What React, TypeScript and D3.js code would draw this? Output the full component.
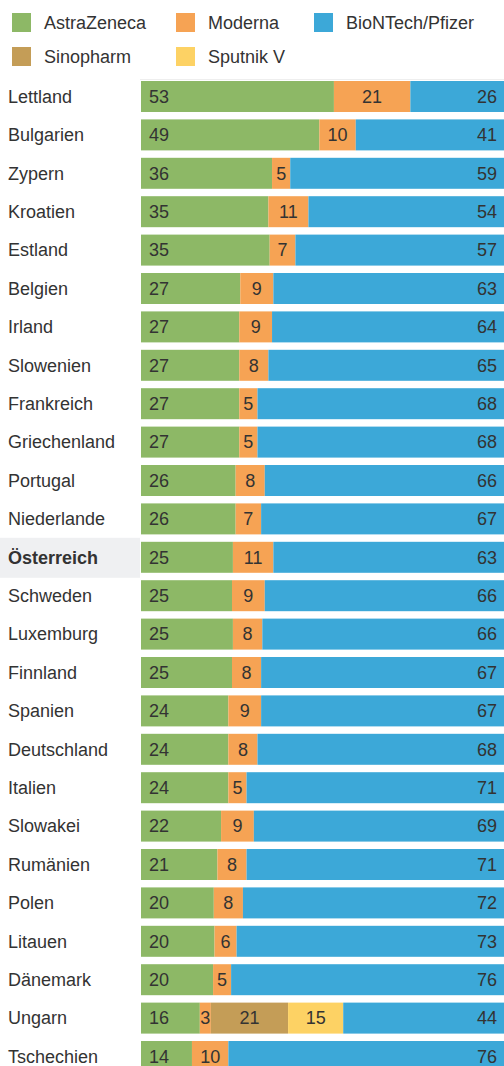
import React from 'react';
import * as d3 from 'd3';

const countries = [
  'Lettland', 'Bulgarien', 'Zypern', 'Kroatien', 'Estland', 'Belgien', 'Irland',
  'Slowenien', 'Frankreich', 'Griechenland', 'Portugal', 'Niederlande', 'Österreich',
  'Schweden', 'Luxemburg', 'Finnland', 'Spanien', 'Deutschland', 'Italien', 'Slowakei',
  'Rumänien', 'Polen', 'Litauen', 'Dänemark', 'Ungarn', 'Tschechien',
];

const astraZeneca = [53, 49, 36, 35, 35, 27, 27, 27, 27, 27, 26, 26, 25, 25, 25, 25, 24, 24, 24, 22, 21, 20, 20, 20, 16, 14];
const moderna = [21, 10, 5, 11, 7, 9, 9, 8, 5, 5, 8, 7, 11, 9, 8, 8, 9, 8, 5, 9, 8, 8, 6, 5, 3, 10];
const sinopharm = [0, 0, 0, 0, 0, 0, 0, 0, 0, 0, 0, 0, 0, 0, 0, 0, 0, 0, 0, 0, 0, 0, 0, 0, 21, 0];
const sputnik = [0, 0, 0, 0, 0, 0, 0, 0, 0, 0, 0, 0, 0, 0, 0, 0, 0, 0, 0, 0, 0, 0, 0, 0, 15, 0];
const pfizer = [26, 41, 59, 54, 57, 63, 64, 65, 68, 68, 66, 67, 63, 66, 66, 67, 67, 68, 71, 69, 71, 72, 73, 76, 44, 76];

const highlight = 'Österreich';

const series = [
  { key: 'AstraZeneca', values: astraZeneca, color: '#8db866' },
  { key: 'Moderna', values: moderna, color: '#f6a354' },
  { key: 'Sinopharm', values: sinopharm, color: '#c49d57' },
  { key: 'Sputnik V', values: sputnik, color: '#fdd264' },
  { key: 'BioNTech/Pfizer', values: pfizer, color: '#3ca8d8' },
];

// legend order as in the picture
const legendRows = [
  ['AstraZeneca', 'Moderna', 'BioNTech/Pfizer'],
  ['Sinopharm', 'Sputnik V'],
];

const W = 504;
const H = 1066;
const font = '"Liberation Sans", Arial, sans-serif';
const textColor = '#333';

export default function App() {
  const rows = countries.map((c, i) => {
    const r: Record<string, any> = { country: c };
    series.forEach(s => { r[s.key] = s.values[i]; });
    return r;
  });

  const stacked = d3.stack<any>()
    .keys(series.map(s => s.key))
    .offset(d3.stackOffsetExpand)(rows);

  const x = d3.scaleLinear().domain([0, 1]).range([141, 505]);
  const y = d3.scaleBand<string>()
    .domain(countries)
    .range([81, 1072])
    .paddingInner(0.193)
    .paddingOuter(0);

  const colorOf = d3.scaleOrdinal<string, string>()
    .domain(series.map(s => s.key))
    .range(series.map(s => s.color));

  const lastKey = series[series.length - 1].key;
  const firstKey = series[0].key;
  const legendX = [12, 176, 314];

  return (
    <svg width={W} height={H} style={{ position: 'absolute', left: 0, top: 0, fontFamily: font }}>
      <rect width={W} height={H} fill="#fff" />

      {/* legend */}
      {legendRows.map((row, ri) =>
        row.map((k, ci) => (
          <g key={k} transform={`translate(${legendX[ci]},${13 + ri * 34})`}>
            <rect width={19} height={19} fill={colorOf(k)} />
            <text x={32} y={16} fontSize={18} fill={textColor}>{k}</text>
          </g>
        ))
      )}
      <line x1={140} x2={W} y1={79.5} y2={79.5} stroke="#eee" />

      {/* highlighted row */}
      <rect x={0} y={y(highlight)! - 4} width={140} height={y.bandwidth() + 9} fill="#eff0f2" />

      {/* country labels */}
      {countries.map(c => (
        <text key={c} x={8} y={y(c)! + y.bandwidth() / 2} dy="0.35em" fontSize={18}
          fill={textColor} fontWeight={c === highlight ? 'bold' : 'normal'}>
          {c}
        </text>
      ))}

      {/* bars */}
      {stacked.map(layer => (
        <g key={layer.key} fill={colorOf(layer.key)}>
          {layer.map((d, i) => {
            const v = series.find(s => s.key === layer.key)!.values[i];
            if (!v) return null;
            const x0 = x(d[0]);
            const x1 = x(d[1]);
            const yy = y(countries[i])! + y.bandwidth() / 2;
            let tx = (x0 + x1) / 2;
            let anchor = 'middle';
            if (layer.key === firstKey) { tx = x0 + 8; anchor = 'start'; }
            if (layer.key === lastKey) { tx = Math.min(x1, W) - 7; anchor = 'end'; }
            return (
              <g key={i}>
                <rect x={x0} y={y(countries[i])} width={x1 - x0} height={y.bandwidth()} />
                <text x={tx} y={yy} dy="0.35em" textAnchor={anchor} fontSize={18} fill={textColor}>
                  {v}
                </text>
              </g>
            );
          })}
        </g>
      ))}
    </svg>
  );
}
